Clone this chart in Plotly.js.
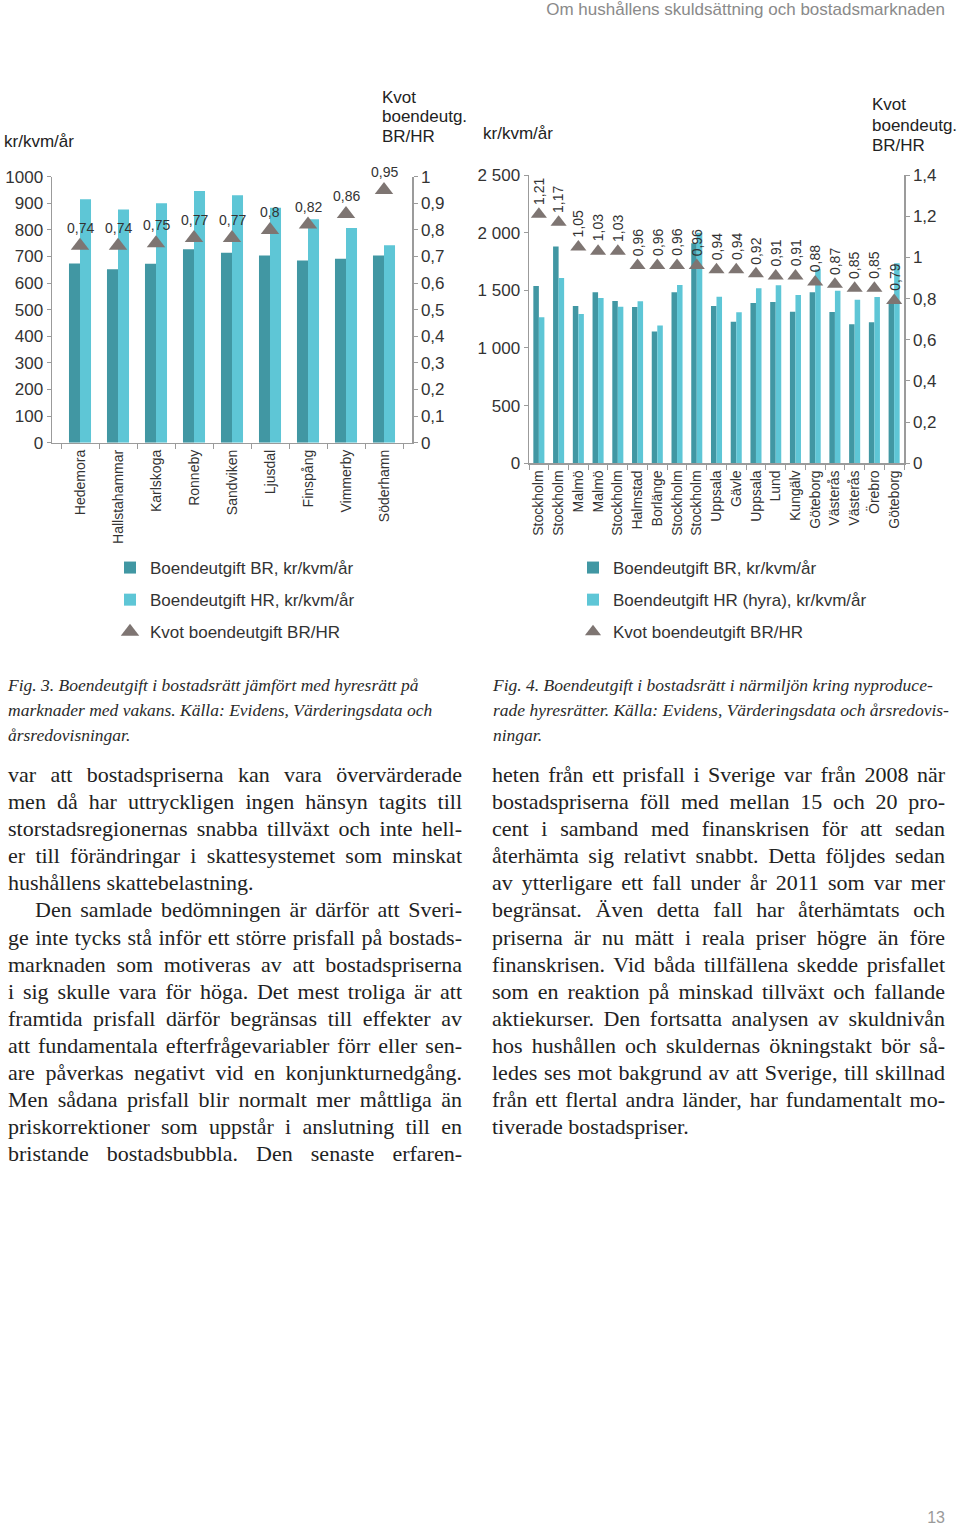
<!DOCTYPE html>
<html><head><meta charset="utf-8">
<script src="https://cdn.plot.ly/plotly-3.0.1.min.js"></script>
<style>
body{margin:0;width:960px;height:1525px;background:#fff;position:relative;overflow:hidden}
#chart{position:absolute;left:0;top:0;width:960px;height:660px;z-index:1}
.hdr{position:absolute;right:15px;top:0px;line-height:20px;font-size:17px;font-family:'Liberation Sans',Arial,sans-serif;color:#8a8a8a;white-space:nowrap;z-index:5}
.pg{position:absolute;right:15px;top:1508px;line-height:20px;font-size:16px;font-family:'Liberation Sans',Arial,sans-serif;color:#9a9a9a}
.cap{position:absolute;font-style:italic;font-size:17.5px;line-height:25px;font-family:'Liberation Serif','Times New Roman',serif;color:#2a2a2a;white-space:nowrap}
.col{position:absolute;font-size:22px;line-height:27.1px;font-family:'Liberation Serif','Times New Roman',serif;color:#222}
.ln{text-align:justify;text-align-last:justify;height:27.1px;overflow:visible}
.ln.end{text-align-last:left}
.meas{position:absolute;visibility:hidden;white-space:nowrap;font-size:22px;font-family:'Liberation Serif','Times New Roman',serif}
</style>
</head>
<body>
<div class="hdr">Om hushållens skuldsättning och bostadsmarknaden</div>
<div id="chart"></div>
<div class="cap" style="left:8px;top:673px">Fig. 3. Boendeutgift i bostadsrätt jämfört med hyresrätt på<br>marknader med vakans. Källa: Evidens, Värderingsdata och<br>årsredovisningar.</div>
<div class="cap" style="left:493px;top:673px">Fig. 4. Boendeutgift i bostadsrätt i närmiljön kring nyproduce-<br>rade hyresrätter. Källa: Evidens, Värderingsdata och årsredovis-<br>ningar.</div>
<div class="col" id="colL" style="left:8px;top:761px;width:454px"></div>
<div class="col" id="colR" style="left:492px;top:761px;width:453px"></div>
<div class="pg">13</div>
<span class="meas" id="meas"></span>
<script>
// ---------- data ----------
const cat1 = ["Hedemora","Hallstahammar","Karlskoga","Ronneby","Sandviken","Ljusdal","Finspång","Vimmerby","Söderhamn"];
const br1 = [674, 652, 673, 727, 714, 704, 685, 692, 704];
const hr1 = [915, 877, 900, 946, 930, 883, 840, 807, 742];
const kvot1 = [0.74, 0.74, 0.75, 0.77, 0.77, 0.8, 0.82, 0.86, 0.95];

const cat2 = ["Stockholm","Stockholm","Malmö","Malmö","Stockholm","Halmstad","Borlänge","Stockholm","Stockholm","Uppsala","Gävle","Uppsala","Lund","Kungälv","Göteborg","Västerås","Västerås","Örebro","Göteborg"];
const br2 = [1538, 1879, 1364, 1483, 1408, 1355, 1142, 1483, 1908, 1364, 1228, 1390, 1399, 1315, 1483, 1312, 1205, 1223, 1382];
const hr2 = [1266, 1607, 1295, 1434, 1358, 1405, 1194, 1546, 2000, 1445, 1309, 1517, 1543, 1460, 1682, 1497, 1419, 1442, 1734];
const kvot2 = [1.21, 1.17, 1.05, 1.03, 1.03, 0.96, 0.96, 0.96, 0.96, 0.94, 0.94, 0.92, 0.91, 0.91, 0.88, 0.87, 0.85, 0.85, 0.79];

const names1 = ["Boendeutgift BR, kr/kvm/år","Boendeutgift HR, kr/kvm/år","Kvot boendeutgift BR/HR"];
const names2 = ["Boendeutgift BR, kr/kvm/år","Boendeutgift HR (hyra), kr/kvm/år","Kvot boendeutgift BR/HR"];

// ---------- styles ----------
const DARK = '#4197a3', LIGHT = '#5ec6d6', TRI = '#7e7572', AX = '#9b9b9b';
const SANS = 'Liberation Sans, Arial, sans-serif';
const tickFont = {family: SANS, size: 17, color: '#333'};
const catFont = {family: SANS, size: 14, color: '#333'};
const H = 660;
const py = p => 1 - p / H;
const fmt = v => String(v).replace('.', ',');
const idx2 = cat2.map((c, i) => i);

const traces = [
  {type:'bar', x:cat1, y:br1, xaxis:'x', yaxis:'y', name:names1[0], marker:{color:DARK}, width:0.29, offset:-0.29, legend:'legend', legendgroup:'a1', hoverinfo:'skip'},
  {type:'bar', x:cat1, y:hr1, xaxis:'x', yaxis:'y', name:names1[1], marker:{color:LIGHT}, width:0.29, offset:0, legend:'legend', legendgroup:'b1', hoverinfo:'skip'},
  {type:'scatter', mode:'markers', x:cat1, y:kvot1, xaxis:'x', yaxis:'y2', name:names1[2], marker:{symbol:'triangle-up', size:16, color:TRI}, legend:'legend', legendgroup:'c1', cliponaxis:false, hoverinfo:'skip'},
  {type:'bar', x:idx2, y:br2, xaxis:'x2', yaxis:'y3', name:names2[0], marker:{color:DARK}, width:0.28, offset:-0.28, legend:'legend2', legendgroup:'a2', hoverinfo:'skip'},
  {type:'bar', x:idx2, y:hr2, xaxis:'x2', yaxis:'y3', name:names2[1], marker:{color:LIGHT}, width:0.28, offset:0, legend:'legend2', legendgroup:'b2', hoverinfo:'skip'},
  {type:'scatter', mode:'markers', x:idx2, y:kvot2, xaxis:'x2', yaxis:'y4', name:names2[2], marker:{symbol:'triangle-up', size:14, color:TRI}, legend:'legend2', legendgroup:'c2', cliponaxis:false, hoverinfo:'skip'}
];

const baseY = {showgrid:false, zeroline:false, showline:true, linecolor:AX, linewidth:1.5, ticks:'outside', ticklen:4, tickwidth:1, tickcolor:AX, tickfont:tickFont, fixedrange:true};

const annotations = [];
cat1.forEach((c, i) => annotations.push({xref:'x', yref:'y2', x:c, y:kvot1[i], text:fmt(kvot1[i]), showarrow:false, yshift:18, font:{family:SANS, size:14, color:'#333'}}));
idx2.forEach(i => annotations.push({xref:'x2', yref:'y4', x:i, y:kvot2[i], text:fmt(kvot2[i]), showarrow:false, textangle:-90, yshift:23, font:{family:SANS, size:14, color:'#333'}}));
const titleFont = {family: SANS, size: 17, color: '#222'};
const tl = (text, x, y) => ({xref:'paper', yref:'paper', x:x/960, y:py(y), xanchor:'left', yanchor:'middle', text:text, showarrow:false, font:titleFont});
annotations.push(tl('kr/kvm/år', 2, 141));
annotations.push(tl('Kvot', 380, 97));
annotations.push(tl('boendeutg.', 380, 117));
annotations.push(tl('BR/HR', 380, 137));
annotations.push(tl('kr/kvm/år', 481, 133));
annotations.push(tl('Kvot', 870, 105));
annotations.push(tl('boendeutg.', 870, 125));
annotations.push(tl('BR/HR', 870, 145));

const legFont = {family: SANS, size: 17, color: '#333'};
const layout = {
  width:960, height:H, margin:{l:0, r:0, t:0, b:0},
  paper_bgcolor:'rgba(0,0,0,0)', plot_bgcolor:'rgba(0,0,0,0)',
  separators:', ', showlegend:true, hovermode:false,
  xaxis:{domain:[52/960, 412/960], anchor:'y', type:'category', tickson:'boundaries', ticks:'outside', ticklen:5, tickcolor:AX, showline:true, linecolor:AX, linewidth:1.5, tickangle:-90, tickfont:catFont, showgrid:false, fixedrange:true},
  yaxis:Object.assign({}, baseY, {domain:[py(442.7), py(176.7)], anchor:'x', range:[0,1000], dtick:100}),
  yaxis2:Object.assign({}, baseY, {overlaying:'y', side:'right', anchor:'x', range:[0,1], dtick:0.1}),
  xaxis2:{domain:[529/960, 904/960], anchor:'y3', range:[-0.5, cat2.length - 0.5], tickmode:'array', tickvals:idx2, ticktext:cat2, ticks:'', showline:true, linecolor:AX, linewidth:1.5, tickangle:-90, tickfont:catFont, showgrid:false, zeroline:false, fixedrange:true,
          minor:{tickmode:'linear', tick0:0.5, dtick:1, ticks:'outside', ticklen:5, tickcolor:AX, showgrid:false}},
  yaxis3:Object.assign({}, baseY, {domain:[py(463.3), py(175)], anchor:'x2', range:[0,2500], dtick:500, separatethousands:true}),
  yaxis4:Object.assign({}, baseY, {overlaying:'y3', side:'right', anchor:'x2', range:[0,1.4], dtick:0.2}),
  legend:{x:110/960, y:py(550), xanchor:'left', yanchor:'top', font:legFont, traceorder:'grouped', tracegroupgap:7, bgcolor:'rgba(0,0,0,0)', borderwidth:0},
  legend2:{x:573/960, y:py(550), xanchor:'left', yanchor:'top', font:legFont, traceorder:'grouped', tracegroupgap:7, bgcolor:'rgba(0,0,0,0)', borderwidth:0},
  annotations:annotations
};
Plotly.newPlot('chart', traces, layout, {staticPlot:true, displayModeBar:false});

// ---------- body text ----------
const linesL = [
  {t:"var att bostadspriserna kan vara övervärderade"},
  {t:"men då har uttryckligen ingen hänsyn tagits till"},
  {t:"storstadsregionernas snabba tillväxt och inte hell-"},
  {t:"er till förändringar i skattesystemet som minskat"},
  {t:"hushållens skattebelastning.", end:true},
  {t:"Den samlade bedömningen är därför att Sveri-", indent:true},
  {t:"ge inte tycks stå inför ett större prisfall på bostads-"},
  {t:"marknaden som motiveras av att bostadspriserna"},
  {t:"i sig skulle vara för höga. Det mest troliga är att"},
  {t:"framtida prisfall därför begränsas till effekter av"},
  {t:"att fundamentala efterfrågevariabler förr eller sen-"},
  {t:"are påverkas negativt vid en konjunkturnedgång."},
  {t:"Men sådana prisfall blir normalt mer måttliga än"},
  {t:"priskorrektioner som uppstår i anslutning till en"},
  {t:"bristande bostadsbubbla. Den senaste erfaren-"}
];
const linesR = [
  {t:"heten från ett prisfall i Sverige var från 2008 när"},
  {t:"bostadspriserna föll med mellan 15 och 20 pro-"},
  {t:"cent i samband med finanskrisen för att sedan"},
  {t:"återhämta sig relativt snabbt. Detta följdes sedan"},
  {t:"av ytterligare ett fall under år 2011 som var mer"},
  {t:"begränsat. Även detta fall har återhämtats och"},
  {t:"priserna är nu mätt i reala priser högre än före"},
  {t:"finanskrisen. Vid båda tillfällena skedde prisfallet"},
  {t:"som en reaktion på minskad tillväxt och fallande"},
  {t:"aktiekurser. Den fortsatta analysen av skuldnivån"},
  {t:"hos hushållen och skuldernas ökningstakt bör så-"},
  {t:"ledes ses mot bakgrund av att Sverige, till skillnad"},
  {t:"från ett flertal andra länder, har fundamentalt mo-"},
  {t:"tiverade bostadspriser.", end:true}
];
const meas = document.getElementById('meas');
function build(id, lines, W){
  const el = document.getElementById(id);
  lines.forEach(l => {
    const d = document.createElement('div');
    d.className = 'ln' + (l.end ? ' end' : '');
    d.textContent = l.t;
    const ind = l.indent ? 27 : 0;
    if (ind) d.style.textIndent = ind + 'px';
    meas.textContent = l.t;
    const w = meas.getBoundingClientRect().width + ind;
    if (w > W - 1) {
      d.style.letterSpacing = ((W - 2 - w) / l.t.length) + 'px';
    }
    d.style.whiteSpace = 'nowrap';
    el.appendChild(d);
  });
}
build('colL', linesL, 454);
build('colR', linesR, 453);
</script>
</body></html>
